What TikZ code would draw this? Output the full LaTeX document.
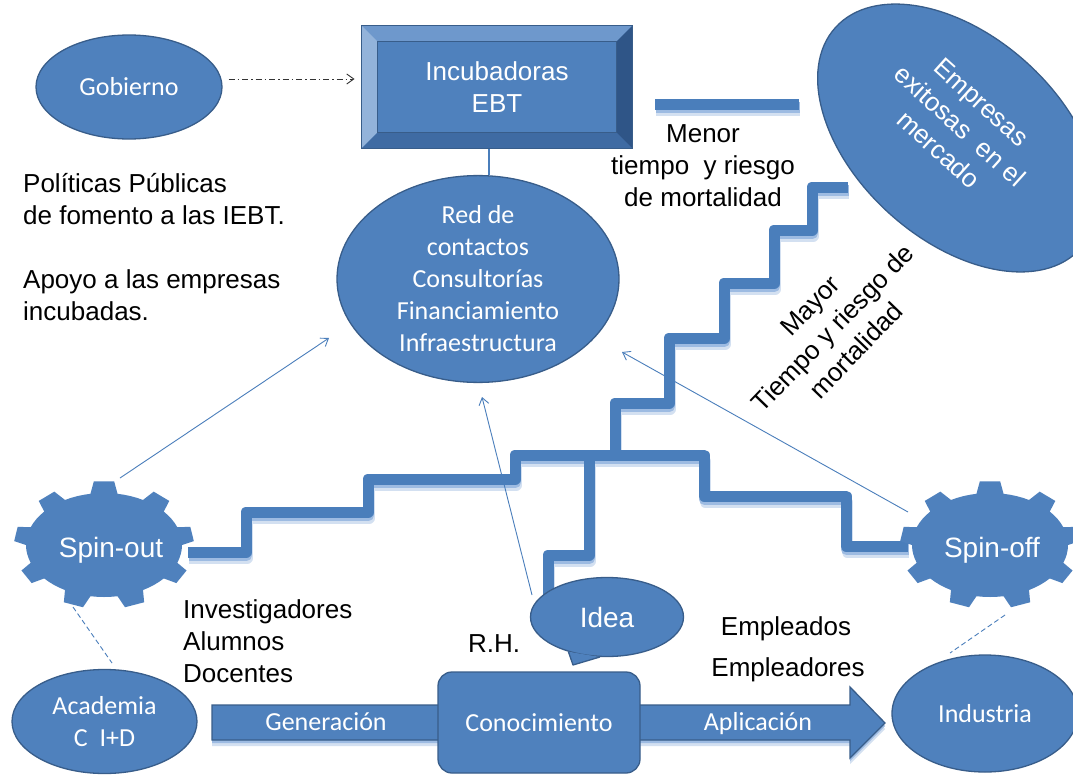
\documentclass[tikz,border=0pt]{standalone}
\usepackage{fontspec}
\setmainfont{Liberation Sans}
\newfontfamily\calib{Carlito}
\usetikzlibrary{shapes.geometric,arrows.meta,calc}

\definecolor{ofblue}{HTML}{4F81BD}
\definecolor{ofdark}{HTML}{385D8A}
\definecolor{lnblue}{HTML}{4A7EBB}
\definecolor{glowA}{HTML}{9DBBE2}
\definecolor{glowB}{HTML}{D3E0F1}
\definecolor{bevTop}{HTML}{6E98CC}
\definecolor{bevLeft}{HTML}{93B3DA}
\definecolor{bevBot}{HTML}{3F6BA3}
\definecolor{bevRight}{HTML}{2F5587}

% nine-tooth gear stretched to an ellipse: centre x, centre y
\newcommand\gearbody[2]{%
  \fill[ofblue] ({#1+78*cos(-100)},{#2+52*sin(-100)})
    \foreach \a in {-90,-50,...,230}{
      -- ({#1+78*cos(\a-10)},{#2+52*sin(\a-10)})
      -- ({#1+90*cos(\a-6.5)},{#2+64*sin(\a-6.5)})
      -- ({#1+90*cos(\a+6.5)},{#2+64*sin(\a+6.5)})
      -- ({#1+78*cos(\a+10)},{#2+52*sin(\a+10)})
      -- ({#1+78*cos(\a+15)},{#2+52*sin(\a+15)})
      -- ({#1+78*cos(\a+20)},{#2+52*sin(\a+20)})
      -- ({#1+78*cos(\a+25)},{#2+52*sin(\a+25)})
    } -- cycle;}

% the stair paths, used for the glow and for the stroke
\newcommand\stairs{%
  (188,552) -- (246,552) -- (246,512) -- (368,512) -- (368,479) -- (515,479)
  -- (515,455) -- (704,455) -- (704,496) -- (846,496) -- (846,546) -- (908,546)
  (615,455) -- (615,403) -- (669,403) -- (669,338) -- (724,338) -- (724,283)
  -- (774,283) -- (774,230) -- (812,230) -- (812,187) -- (848,187)
  (589,455) -- (589,555) -- (548,555) -- (548,596)
  (655,104) -- (799,104)}

\begin{document}
\begin{tikzpicture}[x=1pt,y=-1pt,
  blob/.style={fill=ofblue, draw=ofdark, line width=1.3pt},
  cal/.style={font=\calib\fontsize{26}{32}\selectfont, text=white, align=center, inner sep=0pt},
  ari/.style={font=\fontsize{26}{32}\selectfont, align=center, inner sep=0pt},
  bigari/.style={font=\fontsize{28}{34}\selectfont, text=white, inner sep=0pt},
  stair/.style={draw=lnblue, line width=11pt, line join=round},
  thinarrow/.style={draw=lnblue, line width=0.9pt, -{Straight Barb[length=7pt,width=10pt]}},
  dashlink/.style={draw=lnblue, line width=0.9pt, dash pattern=on 5pt off 3pt},
  dashdot/.style={draw=black!80, line width=0.9pt, dash pattern=on 6pt off 3pt on 1.5pt off 3pt,
    -{Straight Barb[length=7pt,width=10pt]}}]

\useasboundingbox[fill=white] (0,0) rectangle (1073,776);

% ---- staircase with its soft reflection ----
\draw[stair, draw=glowB, xshift=1pt, yshift=-6pt] \stairs;
\draw[stair, draw=glowA, xshift=0.5pt, yshift=-3.5pt] \stairs;
\draw[stair] \stairs;

% ---- Gobierno ----
\node[blob, ellipse, minimum width=186pt, minimum height=104pt, cal] (gob) at (129,87) {Gobierno};

% ---- Incubadoras EBT, bevelled box ----
\node[fill=ofblue, draw=ofdark, line width=1pt, minimum width=270pt, minimum height=122pt, inner sep=0pt] (inc) at (497,87) {};
\fill[bevTop] (inc.north west) -- (inc.north east) -- ([shift={(-16,16)}]inc.north east) -- ([shift={(16,16)}]inc.north west) -- cycle;
\fill[bevLeft] (inc.north west) -- ([shift={(16,16)}]inc.north west) -- ([shift={(16,-16)}]inc.south west) -- (inc.south west) -- cycle;
\fill[bevBot] (inc.south west) -- ([shift={(16,-16)}]inc.south west) -- ([shift={(-16,-16)}]inc.south east) -- (inc.south east) -- cycle;
\fill[bevRight] (inc.north east) -- ([shift={(-16,16)}]inc.north east) -- ([shift={(-16,-16)}]inc.south east) -- (inc.south east) -- cycle;
\draw[ofdark, line width=1pt] (inc.north west) rectangle (inc.south east);
\draw[ofdark, line width=0.6pt] ([shift={(16,16)}]inc.north west) rectangle ([shift={(-16,-16)}]inc.south east);
\node[ari, text=white] (inctxt) at (497,89.6) {\strut Incubadoras\\EBT\strut};

% ---- Red de contactos ----
\node[blob, ellipse, minimum width=282pt, minimum height=204pt, cal] (red) at (478,279)
  {Red de\\contactos\\Consultorías\\Financiamiento\\Infraestructura};

% ---- Empresas exitosas ----
\node[blob, ellipse, rotate=-42, minimum width=330pt, minimum height=204pt] (emp) at (958,138) {};
\node[ari, text=white, rotate=-42] (emptxt) at (960,126) {Empresas\\exitosas~ en el\\mercado};

% ---- gears ----
\gearbody{104}{545}
\node[bigari, anchor=base] (spinout) at (111,557) {Spin-out};
\gearbody{990}{545}
\node[bigari, anchor=base] (spinoff) at (992,557) {Spin-off};

% ---- knowledge flow arrow ----
\fill[glowB] (212,711) -- (850,711) -- (850,693) -- (885,729) -- (850,764) -- (850,746) -- (212,746) -- cycle;
\fill[glowA] (212,708) -- (850,708) -- (850,690) -- (885,726) -- (850,761) -- (850,743) -- (212,743) -- cycle;
\draw[blob] (212,705) -- (850,705) -- (850,687) -- (885,723) -- (850,758) -- (850,740) -- (212,740) -- cycle;
\node[cal, anchor=base] (gen) at (326,730) {Generación};
\node[cal, anchor=base] (apl) at (758,730) {Aplicación};

\node[blob, ellipse, minimum width=185pt, minimum height=104pt, cal] (acad) at (104.5,721.5) {Academia\\C~~I+D};
\node[blob, rounded corners=14pt, minimum width=202pt, minimum height=101pt, cal] (con) at (539,722.5) {Conocimiento};
\node[blob, ellipse, minimum width=186pt, minimum height=117pt, cal] (ind) at (985,713.5) {Industria};

% ---- Idea callout ----
\node[blob, ellipse, minimum width=153pt, minimum height=79pt, bigari] (idea) at (607,617) {Idea};
\coordinate (ideatip) at (573,665);
\fill[ofblue] (idea.222) -- (ideatip) -- (idea.260) -- cycle;
\draw[ofdark, line width=1.3pt, line join=round] (idea.222) -- (ideatip) -- (idea.260);

% ---- connectors ----
\draw[dashdot] ([shift={(6,-8)}]gob.east) -- ([shift={(-7,-8)}]inc.west);
\draw[lnblue, line width=1.5pt] ([xshift=-8pt]inc.south) -- ([xshift=-8pt]inc.south |- red.north);

\coordinate (a1s) at (120,478); \coordinate (a1e) at (329,338);
\coordinate (a2s) at (532,595); \coordinate (a2e) at (482,397);
\coordinate (a3s) at (908,512); \coordinate (a3e) at (622,352);
\draw[thinarrow] (a1s) -- (a1e);
\draw[thinarrow] (a2s) -- (a2e);
\draw[thinarrow] (a3s) -- (a3e);

\coordinate (d1s) at (73,607); \coordinate (d1e) at (112,663);
\coordinate (d2s) at (1005,615); \coordinate (d2e) at (950,653);
\draw[dashlink] (d1s) -- (d1e);
\draw[dashlink] (d2s) -- (d2e);

% ---- free text ----
\node[ari, anchor=west, align=left] (pol) at (23,201.6) {\strut Políticas Públicas\\de fomento a las IEBT.\strut};
\node[ari, anchor=west, align=left] (apoyo) at (23,297.6) {\strut Apoyo a las empresas\\incubadas.\strut};
\node[ari] (menor) at (703,167.6) {\strut Menor\\tiempo~ y riesgo\\de mortalidad\strut};
\node[ari, rotate=46] (mayor) at (833,328) {Mayor\\Tiempo y riesgo de\\mortalidad};
\node[ari, anchor=west, align=left] (inv) at (183,643.6) {\strut Investigadores\\Alumnos\\Docentes\strut};
\node[ari, anchor=base west] (rh) at (468,652) {R.H.};
\node[ari, anchor=base] (empl) at (786,635) {Empleados};
\node[ari, anchor=base] (emplr) at (788,676) {Empleadores};

\end{tikzpicture}
\end{document}
